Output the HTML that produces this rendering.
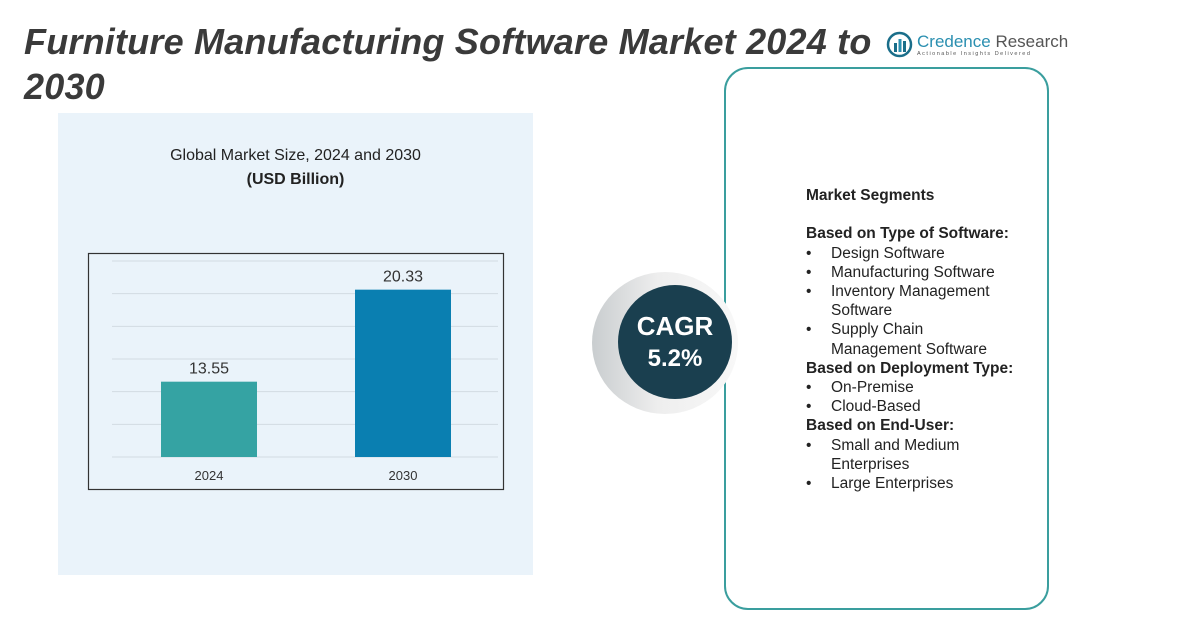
<!DOCTYPE html>
<html><head><meta charset="utf-8"><style>
body{margin:0;width:1203px;height:618px;background:#fff;position:relative;overflow:hidden;font-family:"Liberation Sans",sans-serif}
.abs{position:absolute}
#title{left:24px;top:19px;font-size:36px;letter-spacing:0.2px;font-weight:bold;font-style:italic;color:#3a3a3a;line-height:45px;width:880px}
#seg{left:806px;top:186px;font-size:15.5px;color:#222;line-height:19.2px}
#seg b{font-weight:bold}
#seg .li{padding-left:25px;position:relative}
#seg .li:before{content:"•";position:absolute;left:0}
</style></head><body>
<div class="abs" style="left:58px;top:113px;width:475px;height:462px;background:#eaf3fa"></div>
<div id="title" class="abs">Furniture Manufacturing Software Market 2024 to 2030</div>
<div class="abs" style="left:886px;top:31px;display:flex;align-items:center">
<svg width="27" height="27"><circle cx="13.5" cy="13.5" r="11.5" fill="none" stroke="#1a6e8a" stroke-width="2.5"/><rect x="8" y="12" width="3" height="9" fill="#1a6e8a"/><rect x="12.5" y="8" width="3" height="13" fill="#2a8fb0"/><rect x="17" y="10" width="3" height="11" fill="#1a6e8a"/></svg>
<div style="margin-left:4px"><div style="font-size:17px;color:#2a8fb0;line-height:19px">Credence <span style="color:#555">Research</span></div><div style="font-size:5.5px;letter-spacing:1.5px;color:#555">Actionable Insights Delivered</div></div></div>
<div class="abs" style="left:58px;width:475px;top:144px;text-align:center;font-size:16px;color:#222;line-height:24px">Global Market Size, 2024 and 2030<br><b>(USD Billion)</b></div>
<svg class="abs" id="chart" style="left:0;top:0" width="1203" height="618"></svg>
<div class="abs" style="left:724px;top:67px;width:321px;height:539px;border:2px solid #3a9e9e;border-radius:24px;background:#fff"></div>
<div class="abs" style="left:592px;top:272px;width:146px;height:142px;border-radius:50%;background:linear-gradient(90deg,#c9cdcf,#eeeeee 45%,#f8f8f8)"></div>
<div class="abs" style="left:618px;top:285px;width:114px;height:114px;border-radius:50%;background:#1a3f4f;color:#fff;text-align:center;font-weight:bold;font-size:26px;line-height:31px;padding-top:26px;box-sizing:border-box">CAGR<br><span style="font-size:24px">5.2%</span></div>
<div id="seg" class="abs">
<div><b>Market Segments</b></div><div>&nbsp;</div>
<div><b>Based on Type of Software:</b></div>
<div class="li">Design Software</div><div class="li">Manufacturing Software</div>
<div class="li">Inventory Management<br>Software</div><div class="li">Supply Chain<br>Management Software</div>
<div><b>Based on Deployment Type:</b></div>
<div class="li">On-Premise</div><div class="li">Cloud-Based</div>
<div><b>Based on End-User:</b></div>
<div class="li">Small and Medium<br>Enterprises</div><div class="li">Large Enterprises</div>
</div>
<script>
const categories=["2024","2030"];
const values=[13.55,20.33];
const labels=["13.55","20.33"];
const colors=["#35a3a3","#0a7fb1"];
const ns="http://www.w3.org/2000/svg",svg=document.getElementById('chart');
const yMin=8,yMax=22,base=457,top0=267;
function y(v){return base-(v-yMin)/(yMax-yMin)*(base-top0);}
function x(i){return 161+i*194;}
function mk(t,a){const e=document.createElementNS(ns,t);for(const k in a)e.setAttribute(k,a[k]);svg.appendChild(e);return e;}
const box=mk('rect',{x:88.5,y:253.5,width:415,height:236,fill:'none',stroke:'#333','stroke-width':1.2});


for(let g=0;g<7;g++){const gy=base-g*(base-top0+6)/6;const l=mk('line',{x1:112,x2:498,y1:gy,y2:gy,stroke:'#d2dbe2','stroke-width':1});

}
categories.forEach((c,i)=>{
const r=mk('rect',{x:x(i),y:y(values[i]),width:96,height:base-y(values[i]),fill:colors[i]});


const t=mk('text',{x:x(i)+48,y:y(values[i])-8,'text-anchor':'middle','font-size':16,fill:'#333','font-family':'Liberation Sans'});t.textContent=labels[i];


const xl=mk('text',{x:x(i)+48,y:480,'text-anchor':'middle','font-size':13,fill:'#333','font-family':'Liberation Sans'});xl.textContent=c;


});
</script>
</body></html>
